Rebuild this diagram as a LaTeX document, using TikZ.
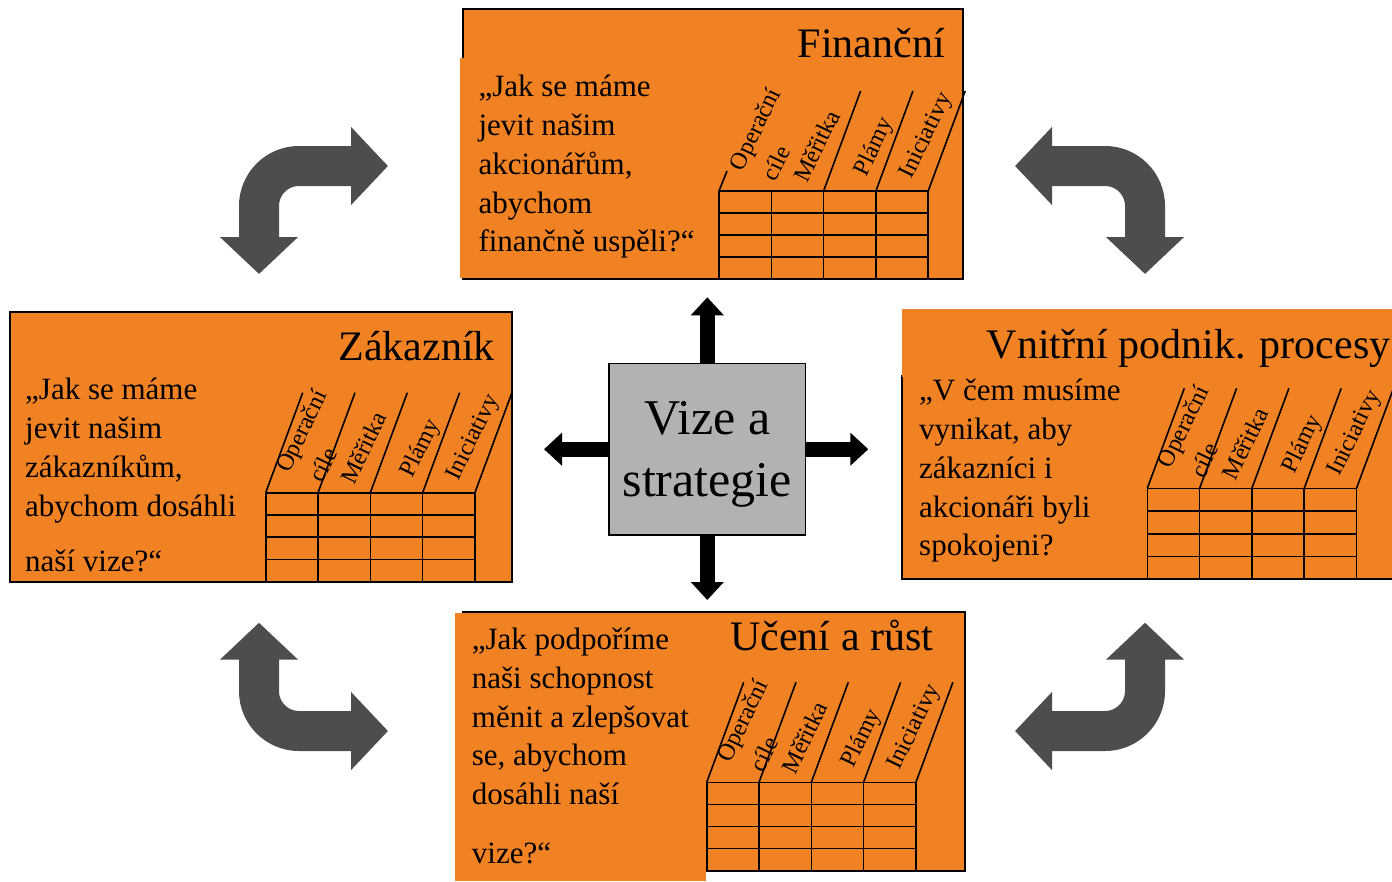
\documentclass[tikz,border=0pt]{standalone}
\usepackage{fontspec}
\setmainfont{Liberation Serif}
\usetikzlibrary{arrows.meta}
\definecolor{bscorange}{RGB}{240,130,35}
\definecolor{bscgray}{RGB}{77,77,77}
\definecolor{vizegray}{RGB}{178,178,178}
\tikzset{
  panel/.style={fill=bscorange,draw=black,line width=1.6pt},
  cover/.style={fill=bscorange},
  title/.style={font=\fontsize{42}{50}\selectfont,inner sep=0pt},
  ask/.style={font=\fontsize{31}{38.7}\selectfont,align=left,inner sep=0pt,anchor=base west},
  col/.style={font=\fontsize{24}{28}\selectfont,rotate=64,inner sep=0pt},
  bigarrow/.style={line width=15pt,-{Triangle[width=32pt,length=18pt]}},
  bentarrow/.style={bscgray,line width=40pt,rounded corners=40pt,{Triangle[width=76pt,length=37pt]}-{Triangle[width=76pt,length=37pt]}}
}
\newcommand{\bscgrid}[5]{%
  \foreach \c in {0,...,4} \draw[line width=1.6pt] (#1+52.3*\c,#2)--++(0,4*#3);
  \foreach \r in {0,...,3} \draw[line width=1.6pt] (#1,#2+#3*\r)--++(209.2,0);
  \foreach \c in {#4,...,4} \draw[line width=1.6pt] (#1+52.3*\c,#2)--++(37,-100);
  \node[col] (#5a) at (#1+37.6,#2-61) {Operační};
  \node[col] (#5b) at (#1+57,#2-28) {cíle};
  \node[col] (#5c) at (#1+97.7,#2-45) {Měřitka};
  \node[col] (#5d) at (#1+155.5,#2-44) {Plámy};
  \node[col] (#5e) at (#1+208,#2-55) {Iniciativy};
}
\begin{document}
\begin{tikzpicture}[x=1pt,y=-1pt]
\useasboundingbox (0,0) rectangle (1392,881);
\draw[panel] (463,9) rectangle (963,279);
\fill[cover] (460,58) rectangle (716,278);
\draw[panel] (10,312) rectangle (512,582);
\draw[panel] (902,375.5) rectangle (1400,579);
\fill[cover] (901.5,309) rectangle (1392,376.5);
\draw[panel] (463,611.7) rectangle (965,870.7);
\fill[cover] (455,613.3) rectangle (706,881);
\bscgrid{719}{191}{22}{2}{fin}
\draw[line width=1.6pt] (719,191)--++(8,-20);
\bscgrid{265.7}{492.7}{22.25}{0}{zak}
\bscgrid{1147.3}{488.3}{22.7}{0}{proc}
\bscgrid{706.7}{782.3}{22.1}{0}{uce}
\node[title,anchor=base east] (fint) at (945,57.7) {Finanční};
\node[ask] (finq) at (478.3,251.7) {„Jak se máme\\jevit našim\\akcionářům,\\abychom\\finančně uspěli?“};
\node[title,anchor=base east] (zakt) at (495,360) {Zákazník};
\node[ask] (zakq) at (25,571.7) {„Jak se máme\\jevit našim\\zákazníkům,\\abychom dosáhli\\[17pt]naší vize?“};
\node[title,anchor=base west] (proct) at (986.7,358.3) {Vnitřní podnik. procesy};
\node[ask] (procq) at (919,555.7) {„V čem musíme\\vynikat, aby\\zákazníci i\\akcionáři byli\\spokojeni?};
\node[title,anchor=base west] (ucet) at (730,650) {Učení a růst};
\node[ask] (uceq) at (471.7,863.3) {„Jak podpoříme\\naši schopnost\\měnit a zlepšovat\\se, abychom\\dosáhli naší\\[20pt]vize?“};
\node[draw,line width=1.6pt,fill=vizegray,minimum width=196.7pt,minimum height=171.7pt,align=center,text depth=0pt,font=\fontsize{50}{62}\selectfont] (vize) at (707.3,449.2) {Vize a\\strategie};
\coordinate (up) at (707.3,297.3);
\coordinate (down) at (707.3,600);
\coordinate (left) at (544,449.2);
\coordinate (right) at (868.3,449.2);
\draw[bigarrow] (vize.north)--(up);
\draw[bigarrow] (vize.south)--(down);
\draw[bigarrow] (vize.west)--(left);
\draw[bigarrow] (vize.east)--(right);
\draw[bentarrow] (388,166)--(259,166)--(259,274);
\draw[bentarrow] (1015,166)--(1145,166)--(1145,274);
\draw[bentarrow] (259,622.7)--(259,731)--(388,731);
\draw[bentarrow] (1145,622.7)--(1145,731)--(1015,731);
\end{tikzpicture}
\end{document}
